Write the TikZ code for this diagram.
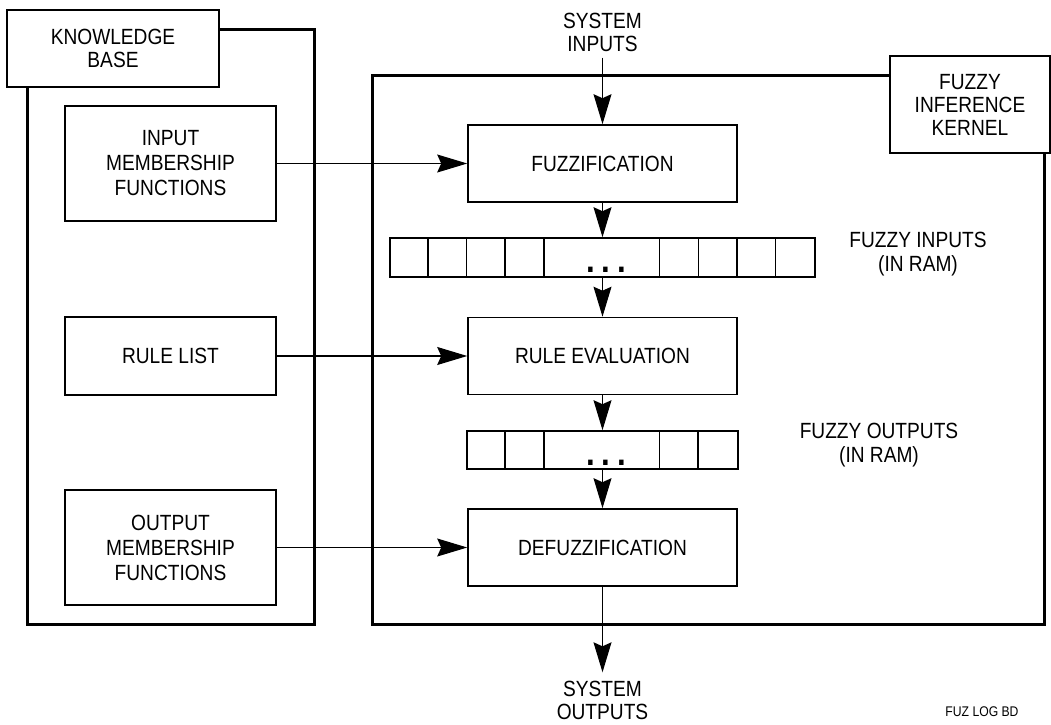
\documentclass[tikz,border=0pt]{standalone}
\usepackage{fontspec}
\setmainfont{Liberation Sans}[FakeStretch=0.87]
\usetikzlibrary{arrows.meta,calc}

\tikzset{
  blk/.style={draw, line width=0.8pt, align=center, inner sep=0pt, fill=white},
  frm/.style={draw, line width=1.5pt, inner sep=0pt},
  lbl/.style={align=center, inner sep=0pt},
  arr/.style={line width=0.55pt, -{Stealth[length=15pt,width=9pt,inset=2pt]}},
  dots/.style={anchor=base, inner sep=0pt, font=\fontsize{18}{18}\selectfont\bfseries},
  mf/.style={font=\fontsize{11}{12.5}\selectfont},
}

\begin{document}
\begin{tikzpicture}[x=0.5pt, y=-0.5pt, font=\fontsize{11}{11.5}\selectfont]
  \useasboundingbox (0,0) rectangle (1051,724);

    \node [frm, minimum width=143.5pt, minimum height=297.5pt] (kb) at (170.5, 326.5) {};
    \node [frm, minimum width=336pt, minimum height=274.5pt] (fik) at (708, 349.5) {};
    \node [blk, minimum width=106pt, minimum height=38.5pt] (kblabel) at (113, 48.5) {KNOWLEDGE\\BASE};
    \node [blk, minimum width=80pt, minimum height=48.5pt] (fiklabel) at (970, 104.5) {FUZZY\\INFERENCE\\KERNEL};

    \node [blk, mf, minimum width=105.5pt, minimum height=57.5pt] (inmf) at (170.5, 163.5) {INPUT\\MEMBERSHIP\\FUNCTIONS};
    \node [blk, minimum width=105.5pt, minimum height=39pt] (rules) at (170.5, 356) {RULE LIST};
    \node [blk, mf, minimum width=105.5pt, minimum height=57.5pt] (outmf) at (170.5, 547.5) {OUTPUT\\MEMBERSHIP\\FUNCTIONS};

    \node [lbl, inner sep=3pt] (sysin) at (602.5, 32) {SYSTEM\\INPUTS};
    \node [blk, minimum width=134.5pt, minimum height=38.5pt] (fuzz) at (602.5, 163.5) {FUZZIFICATION};
    \node [blk, minimum width=212.5pt, minimum height=19.5pt] (fin) at (602.5, 257.5) {};
    \node [blk, minimum width=134.5pt, minimum height=38.5pt] (ruleval) at (602.5, 356) {RULE EVALUATION};
    \node [blk, minimum width=135.25pt, minimum height=19pt] (fout) at (602.5, 450) {};
    \node [blk, minimum width=134.5pt, minimum height=38.5pt] (defuzz) at (602.5, 547.5) {DEFUZZIFICATION};
    \node [lbl, inner sep=4pt] (sysout) at (602.5, 700) {SYSTEM\\OUTPUTS};

    \foreach \i in {1,2,3,4,7,8,9,10}
      \draw [line width=0.8pt] ($(fin.north west)+(\i*38.64,0)$) -- ($(fin.south west)+(\i*38.64,0)$);
    \foreach \i in {1,2,5,6}
      \draw [line width=0.8pt] ($(fout.north west)+(\i*38.64,0)$) -- ($(fout.south west)+(\i*38.64,0)$);
    \node [dots] (findots) at (606, 272) {.\hspace{3.4pt}.\hspace{3.4pt}.};
    \node [dots] (foutdots) at (606, 465) {.\hspace{3.4pt}.\hspace{3.4pt}.};

    \node [lbl, font=\fontsize{11}{12}\selectfont] (finlabel) at (918, 254) {FUZZY INPUTS\\(IN RAM)};
    \node [lbl, font=\fontsize{11}{12}\selectfont] (foutlabel) at (879, 445) {FUZZY OUTPUTS\\(IN RAM)};
    \node [lbl, font=\fontsize{7}{8}\selectfont] (figid) at (982, 712) {FUZ LOG BD};

    \draw [arr] (sysin) to (fuzz);
    \draw [arr] (fuzz) to (fin);
    \draw [arr] (fin) to (ruleval);
    \draw [arr] (ruleval) to (fout);
    \draw [arr] (fout) to (defuzz);
    \draw [arr] (defuzz) to (sysout);
    \draw [arr] (inmf) to (fuzz);
    \draw [arr] (rules) to (ruleval);
    \draw [arr] (outmf) to (defuzz);

  \end{tikzpicture}
\end{document}
